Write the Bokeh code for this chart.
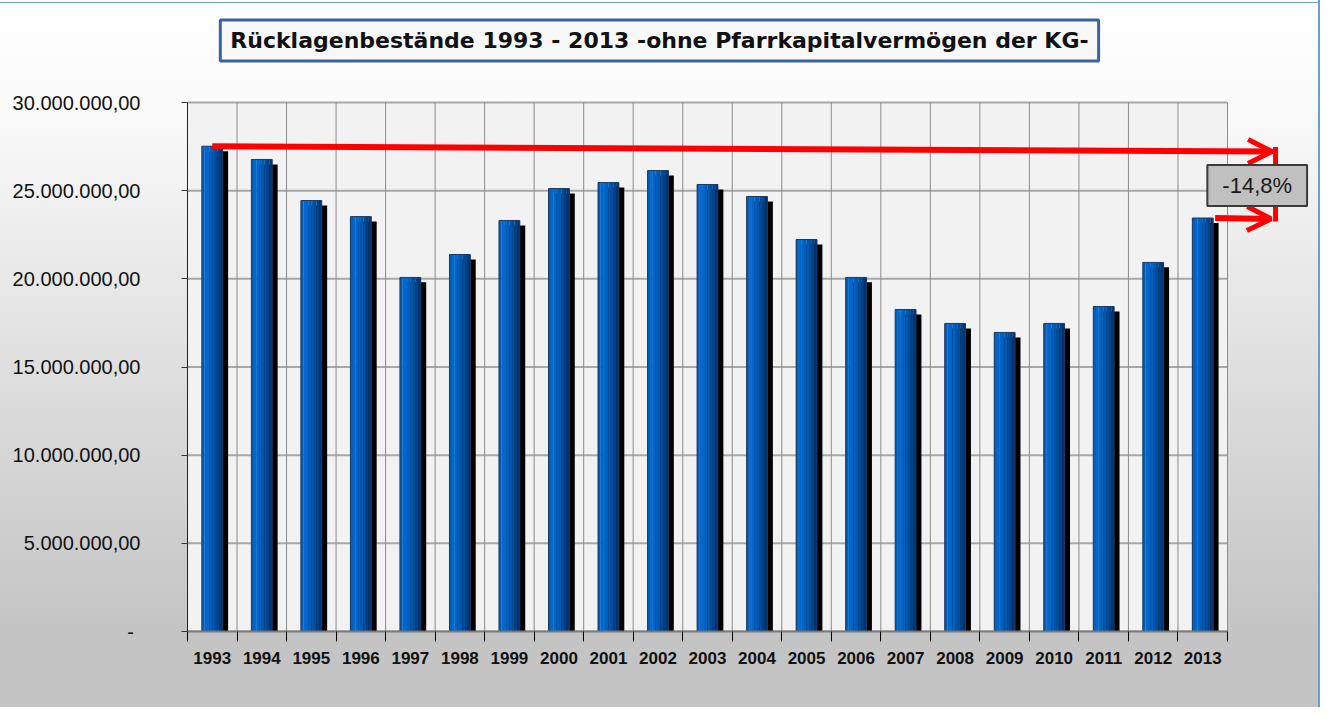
import numpy as np
from bokeh.plotting import figure
from bokeh.models import ColumnDataSource, FixedTicker, Range1d, Label, Arrow, OpenHead
from bokeh.transform import dodge
from bokeh.embed import file_html
from bokeh.resources import INLINE

# ---------------- data ----------------
years = ["1993", "1994", "1995", "1996", "1997", "1998", "1999", "2000", "2001", "2002",
         "2003", "2004", "2005", "2006", "2007", "2008", "2009", "2010", "2011", "2012", "2013"]
values = [27.52e6, 26.77e6, 24.44e6, 23.53e6, 20.08e6, 21.38e6, 23.31e6, 25.12e6, 25.46e6, 26.14e6,
          25.35e6, 24.67e6, 22.23e6, 20.08e6, 18.26e6, 17.47e6, 16.96e6, 17.47e6, 18.43e6, 20.93e6, 23.45e6]
y_ticks = [0, 5e6, 10e6, 15e6, 20e6, 25e6, 30e6]
y_tick_labels = ["-\u2004", "5.000.000,00", "10.000.000,00", "15.000.000,00",
                 "20.000.000,00", "25.000.000,00", "30.000.000,00"]
title_text = "Rücklagenbestände 1993 - 2013 -ohne Pfarrkapitalvermögen der KG-"
change_text = "-14,8%"

# ---------------- figure ----------------
n = len(years)
xs = [i + 0.5 for i in range(n)]
ymax = y_ticks[-1]
src = ColumnDataSource(dict(x=xs, top=values, shadow_top=[v - 0.28e6 for v in values]))

W, H = 1318, 707
left_b, bottom_b = 187, 76
plot_px_w = 1040          # pixel width of the 21 categories
plot_px_h = 529           # pixel height of 0..30M
x_end = n * (W - left_b) / plot_px_w
y_end = ymax * (H - bottom_b) / plot_px_h

p = figure(width=W, height=H, x_range=Range1d(0, x_end), y_range=Range1d(0, y_end),
           output_backend="svg", toolbar_location=None,
           min_border_left=left_b, min_border_right=0, min_border_top=0, min_border_bottom=bottom_b,
           background_fill_color=None, border_fill_color=None, outline_line_color=None)

p.styles = {
    "background": ("linear-gradient(#6a9fd6,#6a9fd6) 0 2px / 100% 1px no-repeat, "
                   "linear-gradient(#ffffff,#ffffff) 0 0 / 100% 2px no-repeat, "
                   "linear-gradient(to bottom, #ffffff 0%, #fbfbfb 14%, #c4c4c4 89%, #c4c4c4 100%)"),
    "box-shadow": "-1px 0 0 #6a9fd6, 2px 0 0 #6a9fd6",
}

p.xgrid.visible = False
p.ygrid.visible = False

# plot area background + grid lines as glyphs
p.quad(left=0, right=n, bottom=0, top=ymax, fill_color="#f2f2f2", line_color=None)
p.segment(x0=[0] * len(y_ticks), x1=[n] * len(y_ticks), y0=y_ticks, y1=y_ticks,
          line_color="#a8a8a8", line_width=2)
p.segment(x0=list(range(n + 1)), x1=list(range(n + 1)), y0=[0] * (n + 1), y1=[ymax] * (n + 1),
          line_color="#8c8c8c", line_width=1)

# x axis
p.xaxis.bounds = (0, n)
p.xaxis.ticker = FixedTicker(ticks=xs, minor_ticks=list(range(n + 1)))
p.xaxis.major_label_overrides = {x: y for x, y in zip(xs, years)}
p.xaxis.axis_line_color = "#7a7a7a"
p.xaxis.axis_line_width = 2
p.xaxis.major_tick_line_color = None
p.xaxis.major_tick_out = 0
p.xaxis.major_tick_in = 0
p.xaxis.minor_tick_line_color = "black"
p.xaxis.minor_tick_out = 10
p.xaxis.minor_tick_in = 0
p.xaxis.major_label_text_font = "Liberation Sans"
p.xaxis.major_label_text_font_style = "bold"
p.xaxis.major_label_text_font_size = "17px"
p.xaxis.major_label_text_color = "#111111"
p.xaxis.major_label_standoff = 10

# y axis
p.yaxis.bounds = (0, ymax)
p.yaxis.ticker = FixedTicker(ticks=y_ticks)
p.yaxis.major_label_overrides = {t: l for t, l in zip(y_ticks, y_tick_labels)}
p.yaxis.axis_line_color = "#222222"
p.yaxis.axis_line_width = 1
p.yaxis.major_tick_line_color = "#333333"
p.yaxis.major_tick_out = 6
p.yaxis.major_tick_in = 0
p.yaxis.minor_tick_line_color = None
p.yaxis.major_label_text_font = "Liberation Sans"
p.yaxis.major_label_text_font_size = "20px"
p.yaxis.major_label_text_color = "#111111"
p.yaxis.major_label_standoff = 41

# bars: shadow, gradient strips, outline
bw = 0.42
p.vbar(x=dodge("x", 0.11, range=p.x_range), top="shadow_top", bottom=0, width=bw,
       fill_color="black", line_color=None, source=src)
colors = ["#0a5cb0", "#0069cf", "#0066ca", "#005fbd", "#0057ad", "#004d9b", "#00418a", "#00356f"]
k = len(colors)
sw = bw / k
for i, c in enumerate(colors):
    p.vbar(x=dodge("x", -bw / 2 + sw * (i + 0.5), range=p.x_range), top="top", bottom=0,
           width=sw * 1.08, fill_color=c, line_color=None, source=src)
p.vbar(x="x", top="top", bottom=0, width=bw, fill_color=None, line_color="#1b3a66",
       line_width=1, source=src)

# red arrows
p.add_layout(Arrow(x_start=xs[0], y_start=values[0], x_end=21.9, y_end=values[0] - 0.3e6,
                   line_color="red", line_width=6,
                   end=OpenHead(size=24, line_color="red", line_width=5)))
p.add_layout(Arrow(x_start=21.97, y_start=values[0] - 0.05e6, x_end=21.97, y_end=values[-1] - 0.2e6,
                   line_color="red", line_width=5, end=None))
p.add_layout(Arrow(x_start=xs[-1] + 0.25, y_start=values[-1], x_end=21.88, y_end=values[-1] - 0.05e6,
                   line_color="red", line_width=6,
                   end=OpenHead(size=24, line_color="red", line_width=5)))

# change label
p.add_layout(Label(x=21.6, y=25.3e6, text=change_text, text_align="center", text_baseline="middle",
                   text_font="Liberation Sans", text_font_size="22px", text_color="#1a1a1a",
                   background_fill_color="#c0c0c0", border_line_color="#3a3a3a",
                   border_line_width=2, padding=(15, 8)))

# title box (shadow + box)
title_y = 33.52e6
title_x = 9.53
p.add_layout(Label(x=title_x, y=title_y, text=title_text, text_align="center", text_baseline="middle",
                   text_font="DejaVu Sans", text_font_size="22px", text_font_style="bold",
                   text_alpha=0, background_fill_color="#a8a8a8", x_offset=2, y_offset=-2,
                   padding=(10, 8)))
p.add_layout(Label(x=title_x, y=title_y, text=title_text, text_align="center", text_baseline="middle",
                   text_font="DejaVu Sans", text_font_size="22px", text_font_style="bold",
                   text_color="#111111", background_fill_color="#f8f8f8",
                   border_line_color="#3a62a0", border_line_width=3, padding=(10, 8)))

open("out.html", "w").write(file_html(p, INLINE))
